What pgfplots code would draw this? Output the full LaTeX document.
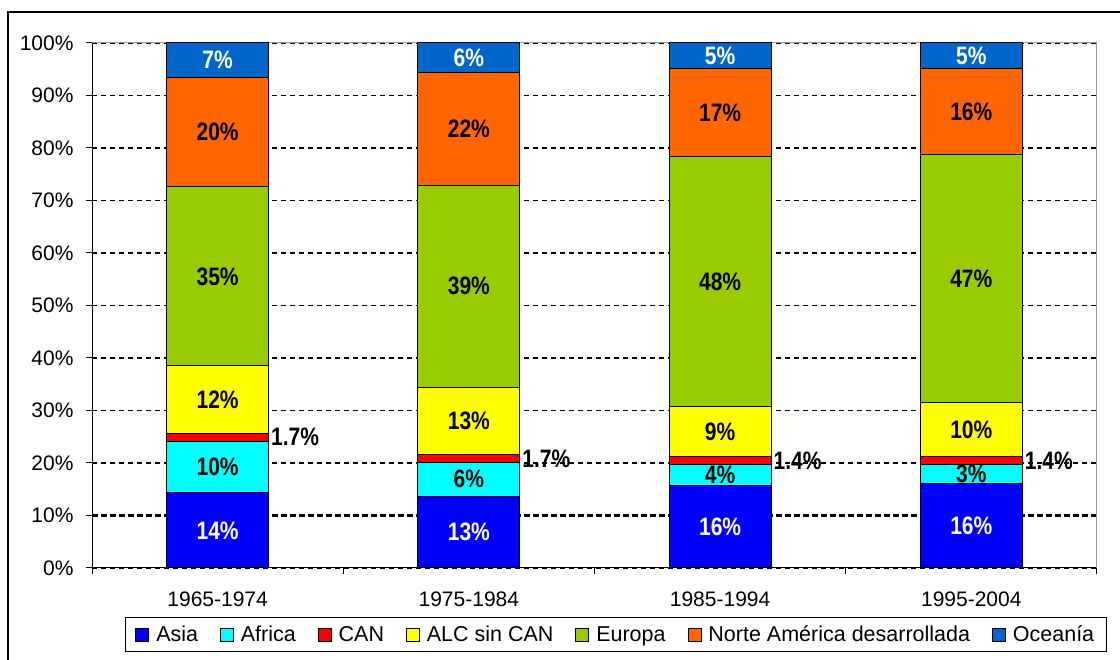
\documentclass[border=0pt]{standalone}
\usepackage{fontspec}
\setmainfont{Liberation Sans}
\usepackage{graphicx}
\usepackage{pgfplots}
\usepackage{pgfplotstable}
\pgfplotsset{compat=1.18}
\definecolor{cAsia}{HTML}{0000FF}
\definecolor{cAfrica}{HTML}{00FFFF}
\definecolor{cCAN}{HTML}{FF0000}
\definecolor{cALC}{HTML}{FFFF00}
\definecolor{cEuropa}{HTML}{99CC00}
\definecolor{cNorte}{HTML}{FF6600}
\definecolor{cOceania}{HTML}{0066CC}
\pgfplotstableread{
x Asia Africa CAN ALC Europa Norte Oceania lAsia lAfrica lCAN lALC lEuropa lNorte lOceania
0 14.3 9.8 1.6 12.8 34.1 20.8 6.6 14 10 1.7 12 35 20 7
1 13.7 6.4 1.5 12.8 38.5 21.5 5.6 13 6 1.7 13 39 22 6
2 15.8 3.9 1.5 9.5 47.7 16.7 4.9 16 4 1.4 9 48 17 5
3 16.1 3.7 1.4 10.3 47.2 16.4 4.9 16 3 1.4 10 47 16 5
}\data
\begin{document}
\begin{tikzpicture}[x=1pt,y=1pt]
\useasboundingbox (0,0) rectangle (1120,660);
\fill[white] (0,0) rectangle (1120,660);
\draw[line width=2pt] (8,0) -- (8,648) -- (1120,648);
\begin{axis}[
  at={(92pt,92pt)}, anchor=south west,
  scale only axis, width=1005pt, height=525pt,
  ybar stacked, bar width=102pt,
  xmin=-0.5, xmax=3.5, ymin=0, ymax=100,
  clip=false,
  axis x line*=bottom, axis y line*=left,
  axis line style={-, black, line width=1pt},
  xtick={0,1,2,3},
  xticklabels={1965-1974,1975-1984,1985-1994,1995-2004},
  minor xtick={-0.5,0.5,1.5,2.5,3.5},
  major x tick style={draw=none},
  tick align=outside, major tick length=6pt, minor tick length=6pt,
  tick style={black, line width=1pt},
  ytick={0,20,30,40,50,60,70,80,90,100},
  yticklabels={0\%,20\%,30\%,40\%,50\%,60\%,70\%,80\%,90\%,100\%},
  extra y ticks={10}, extra y tick labels={10\%},
  extra y tick style={grid style={black, line width=2.4pt, dash pattern=on 6pt off 3pt}},
  ymajorgrids,
  grid style={black, line width=1.2pt, dash pattern=on 5pt off 4pt},
  tick label style={font=\fontsize{21}{21}\selectfont},
  xticklabel style={yshift=-14pt},
  yticklabel style={xshift=-9pt},
  point meta=explicit symbolic,
  nodes near coords={\scalebox{1}[1.2]{\pgfplotspointmeta\%}},
  every node near coord/.append style={font=\fontsize{21}{21}\selectfont\bfseries, anchor=center, inner sep=0pt},
  legend style={at={(0.0328,-0.0933)}, anchor=north west, legend columns=-1, draw=black, line width=1pt,
    font=\fontsize{21.5}{21.5}\selectfont, inner ysep=6.5pt, inner xsep=10pt,
    /tikz/every odd column/.append style={column sep=5pt},
    /tikz/every even column/.append style={column sep=20pt}},
  legend image code/.code={\draw[#1, draw=black, line width=0.8pt] (0pt,-6.5pt) rectangle (13pt,6.5pt);},
]
\addplot[fill=cAsia, draw=black, line width=1pt, every node near coord/.append style={text=white}]
  table[x=x, y=Asia, meta=lAsia] {\data};
\addplot[fill=cAfrica, draw=black, line width=1pt, every node near coord/.append style={text=black}]
  table[x=x, y=Africa, meta=lAfrica] {\data};
\addplot[fill=cCAN, draw=black, line width=1pt, every node near coord/.append style={text=black, anchor=west, xshift=53pt}]
  table[x=x, y=CAN, meta=lCAN] {\data};
\addplot[fill=cALC, draw=black, line width=1pt, every node near coord/.append style={text=black}]
  table[x=x, y=ALC, meta=lALC] {\data};
\addplot[fill=cEuropa, draw=black, line width=1pt, every node near coord/.append style={text=black}]
  table[x=x, y=Europa, meta=lEuropa] {\data};
\addplot[fill=cNorte, draw=black, line width=1pt, every node near coord/.append style={text=black}]
  table[x=x, y=Norte, meta=lNorte] {\data};
\addplot[fill=cOceania, draw=black, line width=1pt, every node near coord/.append style={text=white}]
  table[x=x, y=Oceania, meta=lOceania] {\data};
\legend{Asia, Africa, CAN, ALC sin CAN, Europa, Norte América desarrollada, Oceanía}
\draw[color=black!40, line width=1pt] (rel axis cs:0,1) -- (rel axis cs:1,1) -- (rel axis cs:1,0);
\end{axis}
\end{tikzpicture}
\end{document}
